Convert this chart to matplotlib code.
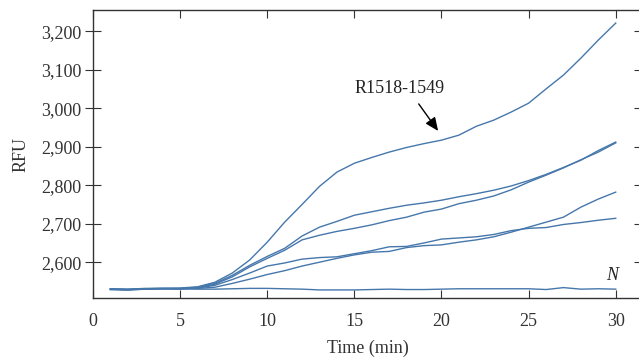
import numpy as np
import matplotlib
matplotlib.use("Agg")
import matplotlib.pyplot as plt
from matplotlib.ticker import FuncFormatter

# time points (min)
t = np.arange(1, 31)

# RFU curves
r1518 = [2531, 2530, 2532, 2532, 2533, 2536, 2548, 2572, 2606, 2652,
         2704, 2750, 2797, 2834, 2857, 2872, 2886, 2898, 2908, 2917,
         2930, 2953, 2969, 2990, 3013, 3050, 3086, 3130, 3177, 3221]
curve_b = [2530, 2529, 2531, 2532, 2532, 2535, 2545, 2566, 2592, 2615,
           2636, 2668, 2691, 2706, 2722, 2731, 2740, 2748, 2754, 2761,
           2770, 2778, 2787, 2798, 2812, 2828, 2846, 2865, 2890, 2912]
curve_c = [2529, 2528, 2530, 2531, 2531, 2534, 2543, 2562, 2588, 2610,
           2631, 2658, 2670, 2680, 2688, 2697, 2708, 2717, 2730, 2738,
           2752, 2761, 2772, 2788, 2808, 2826, 2845, 2866, 2886, 2910]
curve_d = [2529, 2528, 2530, 2531, 2531, 2533, 2540, 2555, 2572, 2590,
           2598, 2608, 2612, 2614, 2622, 2630, 2640, 2641, 2650, 2660,
           2663, 2666, 2672, 2682, 2688, 2690, 2698, 2703, 2709, 2714]
curve_e = [2530, 2529, 2531, 2531, 2530, 2532, 2535, 2545, 2556, 2568,
           2578, 2590, 2600, 2610, 2619, 2626, 2628, 2638, 2643, 2645,
           2652, 2658, 2666, 2678, 2691, 2704, 2717, 2743, 2764, 2782]
neg = [2530, 2529, 2531, 2532, 2531, 2530, 2530, 2531, 2532, 2532,
       2531, 2530, 2528, 2528, 2528, 2529, 2530, 2529, 2529, 2530,
       2531, 2531, 2531, 2531, 2531, 2529, 2534, 2530, 2531, 2530]

curves = [r1518, curve_b, curve_c, curve_d, curve_e, neg]

plt.rcParams["font.family"] = ["Liberation Serif", "DejaVu Serif"]
fig = plt.figure(figsize=(6.39, 3.64), dpi=100)
ax = fig.add_axes([0.1455, 0.1813, 0.859, 0.7912])

col = "#4677ab"
for c in curves:
    ax.plot(t, c, color=col, lw=1.0)

ax.set_xlim(0, 31.5)
ax.set_ylim(2507, 3255)
ax.set_xticks([0, 5, 10, 15, 20, 25, 30])
ax.set_yticks([2600, 2700, 2800, 2900, 3000, 3100, 3200])
ax.yaxis.set_major_formatter(FuncFormatter(lambda v, p: f"{int(v):,}"))

dark = "#333333"
for s in ax.spines.values():
    s.set_color(dark)
    s.set_linewidth(1.0)
ax.tick_params(axis="x", direction="in", top=True, length=6, colors=dark,
               labelsize=13, pad=11)
ax.tick_params(axis="y", direction="inout", right=True, length=11, colors=dark,
               labelsize=13, pad=3)

ax.set_xlabel("Time (min)", fontsize=13, color=dark, labelpad=7)
ax.set_ylabel("RFU", fontsize=13, color=dark, labelpad=8)

ax.text(17.6, 3052, "R1518-1549", fontsize=13, color="#222222",
        ha="center", va="center")
ax.annotate("", xy=(19.9, 2935), xytext=(18.6, 3017),
            arrowprops=dict(arrowstyle="-|>,head_length=0.8,head_width=0.35",
                            color="black", lw=1.0))
ax.text(29.8, 2566, "N", fontsize=13, style="italic", color="#222222",
        ha="center", va="center")

fig.savefig("out.png", dpi=100)
